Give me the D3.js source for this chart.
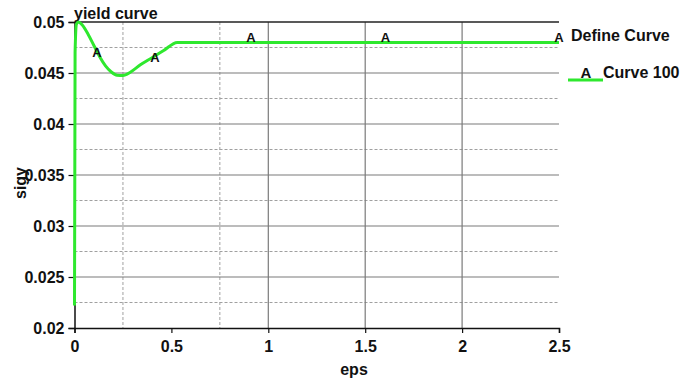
<!DOCTYPE html>
<html>
<head>
<meta charset="utf-8">
<script src="https://cdn.jsdelivr.net/npm/d3@7/dist/d3.min.js"></script>
<style>
  html, body { margin: 0; padding: 0; background: #fff; }
  svg { display: block; font-family: "Liberation Sans", Arial, sans-serif; }
</style>
</head>
<body>
<svg id="chart" width="687" height="383"></svg>
<script>
// yield curve: effective plastic strain vs yield stress
const eps  = [0, 0.003, 0.01, 0.02, 0.04, 0.07, 0.10, 0.13, 0.16, 0.19, 0.22, 0.25, 0.29, 0.34, 0.40, 0.46, 0.53, 2.5];
const sigy = [0.0222, 0.0470, 0.0498, 0.0500, 0.0497, 0.0488, 0.0477, 0.0466, 0.0457, 0.0451, 0.04478, 0.04475, 0.0451, 0.0458, 0.0465, 0.0472, 0.0480, 0.0480];
// positions of the "A" curve markers along eps
const markerEps = [0.116, 0.415, 0.91, 1.605, 2.5];
const xTicks = [0, 0.5, 1, 1.5, 2, 2.5];
const yTicks = [0.02, 0.025, 0.03, 0.035, 0.04, 0.045, 0.05];
const xMinorGrid = [0.25, 0.75];
const xMajorGrid = [1, 1.5, 2];
const yMinorGrid = [0.0225, 0.0275, 0.0325, 0.0375, 0.0425, 0.0475];
const curveName = "Curve 100";

const svg = d3.select("#chart");
const x = d3.scaleLinear().domain([0, 2.5]).range([74.5, 559]);
const y = d3.scaleLinear().domain([0.02, 0.05]).range([328, 22]);
const green = "#2ee82e";
const font = "bold 16px 'Liberation Sans', Arial, sans-serif";

// grid
const g = svg.append("g");
g.selectAll(".hmin").data(yMinorGrid).join("line")
  .attr("x1", x(0)).attr("x2", x(2.5)).attr("y1", d => y(d)).attr("y2", d => y(d))
  .attr("stroke", "#a0a0a0").attr("stroke-width", 1).attr("stroke-dasharray", "3,2");
g.selectAll(".vmin").data(xMinorGrid).join("line")
  .attr("x1", d => x(d)).attr("x2", d => x(d)).attr("y1", y(0.05)).attr("y2", y(0.02))
  .attr("stroke", "#a0a0a0").attr("stroke-width", 1).attr("stroke-dasharray", "3,2");
g.selectAll(".hmaj").data(yTicks.filter(v => v > 0.02 && v < 0.05)).join("line")
  .attr("x1", x(0)).attr("x2", x(2.5)).attr("y1", d => y(d)).attr("y2", d => y(d))
  .attr("stroke", "#7a7a7a").attr("stroke-width", 1.2);
g.selectAll(".vmaj").data(xMajorGrid).join("line")
  .attr("x1", d => x(d)).attr("x2", d => x(d)).attr("y1", y(0.05)).attr("y2", y(0.02))
  .attr("stroke", "#7a7a7a").attr("stroke-width", 1.2);
// top border
g.append("line").attr("x1", x(0)).attr("x2", x(2.5)).attr("y1", y(0.05)).attr("y2", y(0.05))
  .attr("stroke", "#222").attr("stroke-width", 1.5);

// axes
const xAxis = d3.axisBottom(x).tickValues(xTicks).tickSize(5).tickPadding(4).tickFormat(d3.format("~g"));
const yAxis = d3.axisLeft(y).tickValues(yTicks).tickSize(6).tickPadding(4).tickFormat(d3.format("~g"));
const xa = svg.append("g").attr("transform", `translate(0,${y(0.02)})`).call(xAxis);
const ya = svg.append("g").attr("transform", `translate(${x(0)},0)`).call(yAxis);
[xa, ya].forEach(a => {
  a.select(".domain").attr("stroke", "#111").attr("stroke-width", 1.5);
  a.selectAll(".tick line").attr("stroke", "#111").attr("stroke-width", 1.2);
  a.selectAll(".tick text").style("font", font).attr("fill", "#111");
});
xa.selectAll(".tick text").attr("dy", "0.95em");

// axis titles
svg.append("text").attr("x", 354).attr("y", 375).attr("text-anchor", "middle")
  .style("font", font).attr("fill", "#111").text("eps");
svg.append("text").attr("transform", "translate(26,183) rotate(-90)").attr("text-anchor", "middle")
  .style("font", font).attr("fill", "#111").text("sigy");
svg.append("text").attr("x", 74).attr("y", 19)
  .style("font", font).attr("fill", "#111").text("yield curve");

// curve
const pts = eps.map((e, i) => [e, sigy[i]]);
svg.append("path").datum(pts)
  .attr("fill", "none").attr("stroke", green).attr("stroke-width", 3)
  .attr("stroke-linejoin", "round")
  .attr("d", d3.line().x(d => x(d[0])).y(d => y(d[1])).curve(d3.curveMonotoneX));

// markers
const sigAt = e => {
  const i = d3.bisectRight(eps, e);
  if (i <= 0) return sigy[0];
  if (i >= eps.length) return sigy[sigy.length - 1];
  const t = (e - eps[i - 1]) / (eps[i] - eps[i - 1]);
  return sigy[i - 1] + t * (sigy[i] - sigy[i - 1]);
};
svg.selectAll(".mk").data(markerEps).join("text")
  .attr("x", d => x(d)).attr("y", d => y(sigAt(d)) + (sigAt(d) < 0.0479 ? 6 : 0))
  .attr("text-anchor", "middle")
  .style("font", "bold 13px 'Liberation Sans', Arial, sans-serif").attr("fill", "#111").text("A");

// legend
svg.append("text").attr("x", 571).attr("y", 41)
  .style("font", font).attr("fill", "#111").text("Define Curve");
svg.append("line").attr("x1", 568).attr("x2", 603).attr("y1", 80).attr("y2", 80)
  .attr("stroke", green).attr("stroke-width", 3);
svg.append("text").attr("x", 586).attr("y", 78).attr("text-anchor", "middle")
  .style("font", "bold 15px 'Liberation Sans', Arial, sans-serif").attr("fill", "#111").text("A");
svg.append("text").attr("x", 603).attr("y", 78)
  .style("font", font).attr("fill", "#111").text(curveName);
</script>
</body>
</html>
